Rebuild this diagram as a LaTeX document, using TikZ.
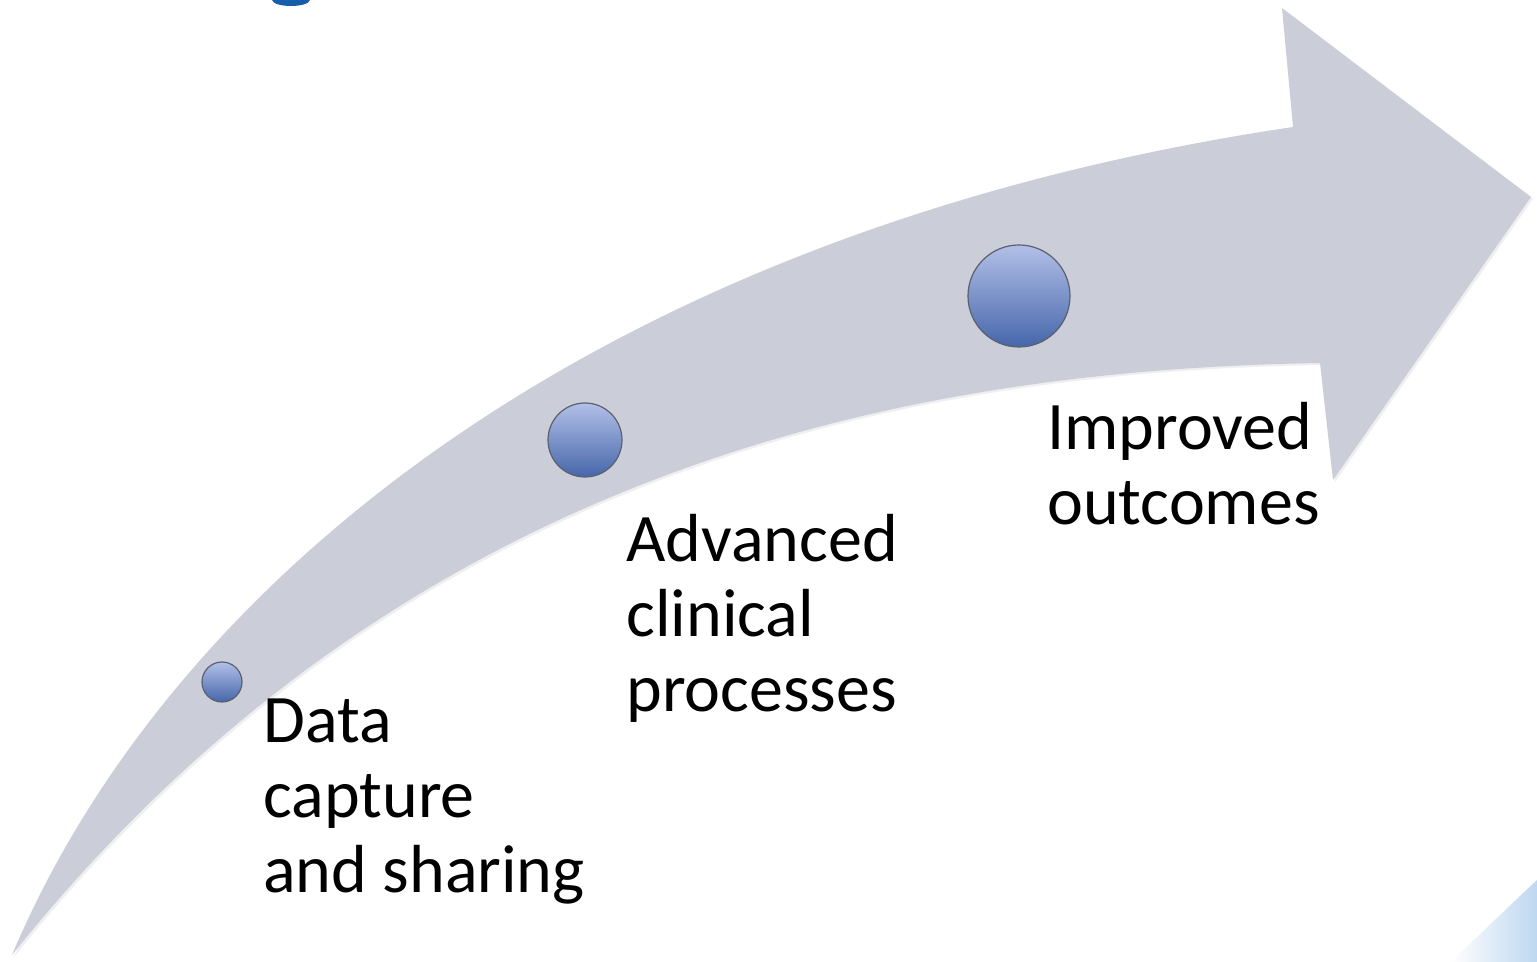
\documentclass[tikz,border=0pt]{standalone}
\usepackage{fontspec}
\setmainfont{Carlito}
\usetikzlibrary{shadings}
\definecolor{arrowfill}{RGB}{203,206,216}
\definecolor{arrowshadow}{RGB}{150,152,160}
\definecolor{titleblue}{RGB}{22,93,170}
\definecolor{balltop}{RGB}{178,192,232}
\definecolor{ballbottom}{RGB}{70,102,170}
\definecolor{ballrim}{RGB}{90,96,110}
\definecolor{swooshblue}{RGB}{190,215,240}
\tikzset{
  label/.style={anchor=base west, inner sep=0pt, align=left,
    font=\fontsize{34pt}{37.5pt}\selectfont, text=black},
  ball/.style={top color=balltop, bottom color=ballbottom, draw=ballrim, line width=0.6pt}
}
\begin{document}
\begin{tikzpicture}[x=0.5pt,y=-0.5pt]
  \fill[white] (0,0) rectangle (1537,962);
  \useasboundingbox (0,0) rectangle (1537,962);
  % title fragment at top
  \fill[titleblue] (272,0) .. controls (274,8) and (308,8) .. (310,0) -- cycle;
  % bottom-right swoosh
  \shade[left color=white, right color=swooshblue] (1450,962) .. controls (1480,935) and (1510,905) .. (1537,880) -- (1537,962) -- cycle;
  % arrow shadow
  \fill[arrowshadow, opacity=0.15]
    (14,957) .. controls (172,582) and (602,232) .. (1295,129)
    -- (1284,10) -- (1533,199) -- (1335,482) -- (1322,365)
    .. controls (902,372) and (402,472) .. (14,957) -- cycle;
  % arrow body
  \fill[arrowfill]
    (12,955) .. controls (170,580) and (600,230) .. (1293,127)
    coordinate (notchtop)
    -- (1282,8) coordinate (headtop)
    -- (1531,197) coordinate (tip)
    -- (1333,480) coordinate (headbottom)
    -- (1320,363) coordinate (notchbottom)
    .. controls (900,370) and (400,470) .. (12,955) -- cycle;
  % balls
  \shade[ball] (222,682) circle[radius=10pt];
  \node[inner sep=0pt, minimum size=20pt] (b1) at (222,682) {};
  \shade[ball] (585,440) circle[radius=18.5pt];
  \node[inner sep=0pt, minimum size=37pt] (b2) at (585,440) {};
  \shade[ball] (1019,296) circle[radius=25.5pt];
  \node[inner sep=0pt, minimum size=51pt] (b3) at (1019,296) {};
  % labels (base anchor = baseline of last line)
  \node[label] (l1) at (263,892) {Data\\capture\\and sharing};
  \node[label] (l2) at (626,711) {Advanced\\clinical\\processes};
  \node[label] (l3) at (1047,524) {Improved\\outcomes};
\end{tikzpicture}
\end{document}
